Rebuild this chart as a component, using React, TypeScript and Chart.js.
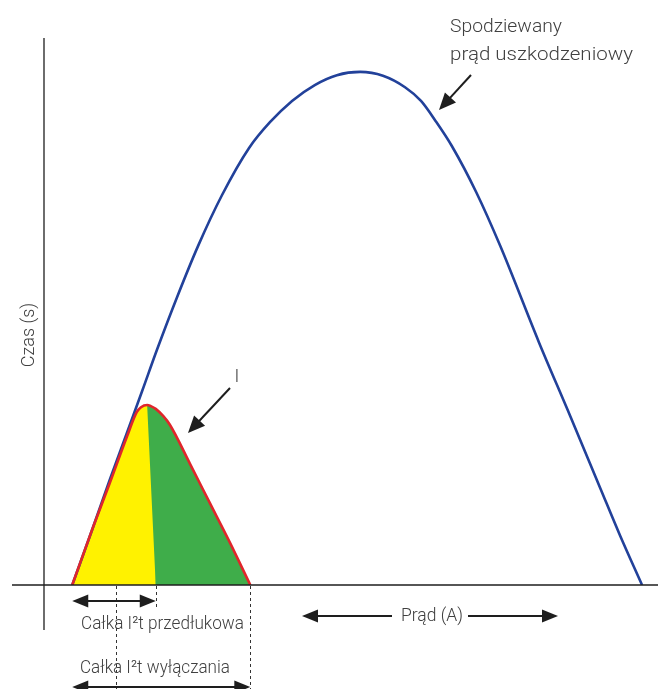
import React, { useEffect, useRef } from "react";
import { Chart, registerables } from "chart.js";

Chart.register(...registerables);

// Prospective fault current (blue)
const blueX = [4.6, 8.0, 10.7, 13.5, 16.0, 18.4, 21.7, 25.1, 29.0, 33.4, 36.8, 40.4, 44.1, 47.7, 51.5, 55.2, 58.8, 61.4, 63.8, 66.4, 70.4, 74.3, 80.6, 85.7, 90.6, 93.8, 97.4];
const blueY = [0, 10.6, 19.2, 27.8, 35.5, 43.0, 52.7, 62.0, 71.3, 79.9, 84.6, 88.5, 91.4, 93.2, 93.8, 93.1, 91.0, 88.5, 84.8, 80.3, 71.8, 62.0, 44.4, 30.9, 17.7, 9.1, 0];

// Let-through current I (red)
const redX = [4.6, 8.0, 10.7, 13.5, 15.1, 15.8, 16.8, 17.4, 18.2, 19.4, 20.5, 23.8, 27.0, 30.3, 33.6];
const redY = [0, 10.6, 18.6, 27.1, 31.6, 32.5, 32.9, 32.7, 32.2, 30.9, 29.3, 22.1, 15.0, 7.7, 0];
const peakIndex = 6;

// Key instants on the current axis
const faultStart = 4.6;
const arcStart = 11.7;
const preArcEnd = 18.2;
const clearEnd = 33.6;

const labelPreArc = "Całka I²t przedłukowa";
const labelClear = "Całka I²t wyłączania";
const labelXAxis = "Prąd (A)";
const labelYAxis = "Czas (s)";
const labelProspective = ["Spodziewany", "prąd uszkodzeniowy"];
const labelI = "I";

const pts = (xs: number[], ys: number[]) => xs.map((x, i) => ({ x, y: ys[i] }));

function arrowHead(ctx: CanvasRenderingContext2D, fx: number, fy: number, tx: number, ty: number, len: number, half: number) {
  const a = Math.atan2(ty - fy, tx - fx);
  const bx = tx - len * Math.cos(a);
  const by = ty - len * Math.sin(a);
  ctx.beginPath();
  ctx.moveTo(tx, ty);
  ctx.lineTo(bx + half * Math.sin(a), by - half * Math.cos(a));
  ctx.lineTo(bx - half * Math.sin(a), by + half * Math.cos(a));
  ctx.closePath();
  ctx.fill();
}

function arrow(ctx: CanvasRenderingContext2D, fx: number, fy: number, tx: number, ty: number, both: boolean, len = 16, half = 6.5) {
  const a = Math.atan2(ty - fy, tx - fx);
  const sx = both ? fx + (len - 2) * Math.cos(a) : fx;
  const sy = both ? fy + (len - 2) * Math.sin(a) : fy;
  const ex = tx - (len - 2) * Math.cos(a);
  const ey = ty - (len - 2) * Math.sin(a);
  ctx.beginPath();
  ctx.moveTo(sx, sy);
  ctx.lineTo(ex, ey);
  ctx.stroke();
  arrowHead(ctx, fx, fy, tx, ty, len, half);
  if (both) arrowHead(ctx, tx, ty, fx, fy, len, half);
}

function fitText(ctx: CanvasRenderingContext2D, text: string, x: number, y: number, width: number) {
  const w = ctx.measureText(text).width;
  ctx.save();
  ctx.translate(x, y);
  ctx.scale(width / w, 1);
  ctx.fillText(text, 0, 0);
  ctx.restore();
}

const annotations = {
  id: "annotations",
  afterDatasetsDraw(chart: any) {
    const { ctx, scales } = chart;
    const xs = scales.x;
    const ys = scales.y;
    const x0 = xs.getPixelForValue(0);
    const y0 = ys.getPixelForValue(0);
    const ink = "#1e1e1e";
    const txt = "#404040";
    ctx.save();

    // axes
    ctx.strokeStyle = ink;
    ctx.lineWidth = 1.3;
    ctx.beginPath();
    ctx.moveTo(x0, chart.chartArea.top);
    ctx.lineTo(x0, y0 + 45);
    ctx.stroke();
    ctx.beginPath();
    ctx.moveTo(x0 - 32, y0);
    ctx.lineTo(chart.width, y0);
    ctx.stroke();

    // dashed markers
    ctx.setLineDash([3, 3]);
    ctx.lineWidth = 1;
    ctx.strokeStyle = "#333";
    const dash = (v: number, len: number) => {
      const px = Math.round(xs.getPixelForValue(v)) + 0.5;
      ctx.beginPath();
      ctx.moveTo(px, y0 + 1);
      ctx.lineTo(px, y0 + len);
      ctx.stroke();
    };
    dash(arcStart, 110);
    dash(preArcEnd, 23);
    dash(clearEnd, 110);
    ctx.setLineDash([]);

    // double arrows
    ctx.strokeStyle = ink;
    ctx.fillStyle = ink;
    ctx.lineWidth = 2;
    const fs = xs.getPixelForValue(faultStart);
    arrow(ctx, fs, y0 + 16, xs.getPixelForValue(preArcEnd), y0 + 16, true);
    arrow(ctx, fs, y0 + 102, xs.getPixelForValue(clearEnd), y0 + 102, true);

    // current axis arrows
    arrow(ctx, 392, y0 + 31, 302, y0 + 31, false);
    arrow(ctx, 468, y0 + 31, 558, y0 + 31, false);

    // pointer arrows
    arrow(ctx, 471, 75, 439, 110, false, 17, 7.5);
    arrow(ctx, 230, 388, 188, 433, false, 17, 7.5);

    // texts
    ctx.fillStyle = txt;
    ctx.font = "300 18px Roboto";
    ctx.textAlign = "left";
    ctx.textBaseline = "alphabetic";
    fitText(ctx, labelPreArc, 81, y0 + 44, 163);
    fitText(ctx, labelClear, 80, y0 + 88, 150);
    ctx.textBaseline = "middle";
    fitText(ctx, labelXAxis, 401, y0 + 31, 62);
    ctx.textAlign = "center";
    ctx.fillText(labelI, 237, 377);
    ctx.font = "300 19px Roboto";
    ctx.textAlign = "left";
    ctx.textBaseline = "alphabetic";
    fitText(ctx, labelProspective[0], 450, 32, 112);
    fitText(ctx, labelProspective[1], 450, 60, 183);

    ctx.font = "300 18px Roboto";
    ctx.translate(29, 335);
    ctx.rotate(-Math.PI / 2);
    ctx.textAlign = "center";
    ctx.textBaseline = "middle";
    ctx.fillText(labelYAxis, 0, 0);
    ctx.restore();
  },
};

export default function App() {
  const ref = useRef<HTMLCanvasElement>(null);
  useEffect(() => {
    document.body.style.margin = "0";
    const red = pts(redX, redY);
    const yellow = [...red.slice(0, peakIndex + 1), { x: preArcEnd, y: 0 }];
    const chart = new Chart(ref.current!, {
      type: "scatter",
      data: {
        datasets: [
          {
            data: yellow,
            showLine: true,
            borderWidth: 0,
            borderColor: "rgba(0,0,0,0)",
            backgroundColor: "#fff200",
            pointRadius: 0,
            tension: 0,
            fill: "origin",
            order: 1,
          },
          {
            data: red,
            showLine: true,
            borderColor: "#e0262b",
            borderWidth: 2.6,
            backgroundColor: "#3fad4a",
            pointRadius: 0,
            cubicInterpolationMode: "monotone",
            fill: "origin",
            order: 2,
          },
          {
            data: pts(blueX, blueY),
            showLine: true,
            borderColor: "#22419a",
            borderWidth: 2.6,
            pointRadius: 0,
            cubicInterpolationMode: "monotone",
            fill: false,
            order: 3,
          },
        ],
      },
      options: {
        animation: false,
        responsive: false,
        layout: { padding: { left: 44, right: 0, top: 38, bottom: 104 } },
        scales: {
          x: { type: "linear", min: 0, max: 100, display: false },
          y: { type: "linear", min: 0, max: 100, display: false },
        },
        plugins: {
          legend: { display: false },
          tooltip: { enabled: false },
          filler: { drawTime: "beforeDatasetsDraw" },
        },
      } as any,
      plugins: [annotations],
    });
    return () => chart.destroy();
  }, []);
  return <canvas ref={ref} width={658} height={689} style={{ display: "block" }} />;
}
